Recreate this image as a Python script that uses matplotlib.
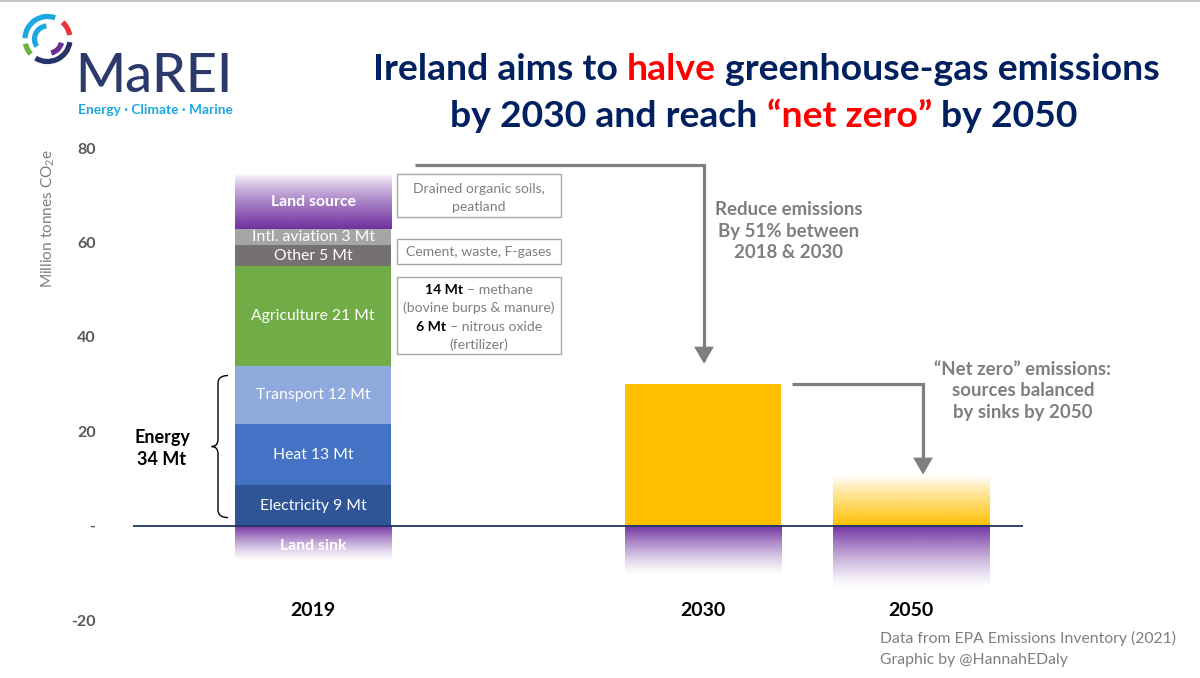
import numpy as np
import matplotlib
matplotlib.use('Agg')
import matplotlib.pyplot as plt
import matplotlib.transforms as mtransforms
from matplotlib.patches import Rectangle, Arc, FancyArrowPatch, PathPatch, ArrowStyle
from matplotlib.path import Path
from matplotlib.colors import to_rgb
from matplotlib.lines import Line2D

plt.rcParams['font.family'] = ['Lato', 'DejaVu Sans']
plt.rcParams['mathtext.fontset'] = 'custom'
plt.rcParams['mathtext.rm'] = 'Lato'
plt.rcParams['mathtext.it'] = 'Lato:italic'

# ---------------- data ----------------
categories = ['2019', '2030', '2050']
sector_labels = ['Electricity 9 Mt', 'Heat 13 Mt', 'Transport 12 Mt',
                 'Agriculture 21 Mt', 'Other 5 Mt', 'Intl. aviation 3 Mt', 'Land source']
values_2019 = [8.5, 13.1, 12.3, 21.0, 4.5, 3.4, 11.6]
sector_colors = ['#2F5597', '#4472C4', '#8FAADC', '#70AD47', '#767171', '#A5A5A5', '#7030A0']
n_energy = 3
source_2030 = 29.9
source_2050 = 10.8
land_sink = [-7.6, -10.5, -13.3]
yticks = [-20, 0, 20, 40, 60, 80]
ytick_labels = ['-20', '-', '20', '40', '60', '80']

# ---------------- layout ----------------
W, H = 1200, 678
fig = plt.figure(figsize=(W / 100, H / 100), dpi=100)
PX = mtransforms.Affine2D().scale(1 / W, -1 / H).translate(0, 1) + fig.transFigure

NAVY = '#002060'
GRAY = '#7F7F7F'
PURPLE = '#7030A0'
YELLOW = '#FFC000'
LS = 11.3  # segment label size

ax = fig.add_axes([133 / W, 1 - 620 / H, (1023 - 133) / W, (620 - 148) / H])
xpos = [0.0, 2.5, 3.833]
bw = 1.0
ax.set_xlim(-1.154, 4.551)
ax.set_ylim(-20, 80)
for s in ax.spines.values():
    s.set_visible(False)
ax.set_xticks([])
ax.set_yticks(yticks, ytick_labels)
ax.tick_params(axis='y', length=0, pad=27, labelsize=11.5, labelcolor='#595959')
for t in ax.get_yticklabels():
    t.set_fontweight('bold')
ax.patch.set_alpha(0)


def grad_bar(x, y0, y1, color, solid='bottom', power=1.0):
    n = 256
    t = np.linspace(0, 1, n)
    a = (1 - t) if solid == 'bottom' else t
    a = a ** power
    img = np.zeros((n, 1, 4))
    img[..., :3] = to_rgb(color)
    img[:, 0, 3] = a
    ax.imshow(img, extent=[x - bw / 2, x + bw / 2, y0, y1], origin='lower',
              aspect='auto', interpolation='bilinear', zorder=2)


# 2019 stacked bar
bottom = 0.0
for lab, v, c in zip(sector_labels, values_2019, sector_colors):
    if lab == 'Land source':
        grad_bar(xpos[0], bottom, bottom + v, c, 'bottom', power=0.75)
        ax.text(xpos[0], bottom + v / 2, lab, ha='center', va='center',
                color='white', fontsize=LS, fontweight='bold', zorder=4)
    else:
        ax.bar(xpos[0], v, bw, bottom=bottom, color=c, zorder=2, linewidth=0)
        ax.text(xpos[0], bottom + v / 2, lab, ha='center', va='center',
                color='white', fontsize=LS, zorder=4)
    bottom += v

# 2030 and 2050 sources
ax.bar(xpos[1], source_2030, bw, color=YELLOW, zorder=2, linewidth=0)
grad_bar(xpos[2], 0, source_2050, YELLOW, 'bottom', power=0.9)

# land sinks
for x, s in zip(xpos, land_sink):
    grad_bar(x, s, 0, PURPLE, 'top', power=1.3)
ax.text(xpos[0], land_sink[0] / 2 - 0.6, 'Land sink', ha='center', va='center',
        color='white', fontsize=LS, fontweight='bold', zorder=4)

ax.set_xlim(-1.154, 4.551)
ax.set_ylim(-20, 80)
ax.axhline(0, color='#203864', lw=1.3, zorder=3)

# category labels
for x, c in zip(xpos, categories):
    ax.text(x, -18.0, c, ha='center', va='center', fontsize=14,
            fontweight='bold', color='black')

# energy brace
energy_total = sum(values_2019[:n_energy])
top, bot = energy_total - 2.1, 1.7
mid = (top + bot) / 2
xr, xm, xl, r = -0.545, -0.609, -0.650, 1.6
verts = [(xr, top), (xm, top), (xm, top - r), (xm, mid + r),
         (xm, mid), (xl, mid), (xm, mid), (xm, mid - r),
         (xm, bot + r), (xm, bot), (xr, bot)]
codes = [Path.MOVETO, Path.CURVE3, Path.CURVE3, Path.LINETO,
         Path.CURVE3, Path.CURVE3, Path.CURVE3, Path.CURVE3,
         Path.LINETO, Path.CURVE3, Path.CURVE3]
ax.add_patch(PathPatch(Path(verts, codes), fill=False, edgecolor='black', lw=1.0, zorder=4))
ax.text(-0.968, mid - 0.4, 'Energy\n34 Mt', ha='center', va='center', fontsize=13,
        fontweight='bold', color='black', linespacing=1.4)

# arrows
astyle = ArrowStyle('-|>', head_length=0.55, head_width=0.32)
p1 = Path([(0.654, 76.3), (2.506, 76.3), (2.506, 34.3)])
ax.add_patch(FancyArrowPatch(path=p1, arrowstyle=astyle, mutation_scale=16,
                             color=GRAY, lw=2.3, joinstyle='miter', capstyle='butt', zorder=5))
p2 = Path([(3.071, source_2030), (3.910, source_2030), (3.910, source_2050)])
ax.add_patch(FancyArrowPatch(path=p2, arrowstyle=astyle, mutation_scale=16,
                             color=GRAY, lw=2.3, joinstyle='miter', capstyle='butt', zorder=5))

# ---------------- text helpers ----------------
renderer = fig.canvas.get_renderer()


def width_px(s, **kw):
    t = fig.text(0, 0, s, **kw)
    w = t.get_window_extent(renderer).width
    t.remove()
    return w


def rich(xc, y, segs, size):
    ws = [width_px(s, fontsize=size, fontweight=wt) for s, c, wt in segs]
    sp = (width_px('n n', fontsize=size, fontweight=segs[0][2])
          - width_px('nn', fontsize=size, fontweight=segs[0][2]))
    total = sum(ws) + sp * (len(segs) - 1)
    x = xc - total / 2
    for (s, c, wt), w in zip(segs, ws):
        fig.text(x, y, s, transform=PX, fontsize=size, fontweight=wt, color=c,
                 ha='left', va='baseline')
        x += w + sp


# title (fit to width)
line1 = [('Ireland aims to', NAVY, 'bold'), ('halve', '#FF0000', 'bold'),
         ('greenhouse-gas emissions', NAVY, 'bold')]
line2 = [('by 2030 and reach', NAVY, 'bold'), ('\u201cnet zero\u201d', '#FF0000', 'bold'),
         ('by 2050', NAVY, 'bold')]
w24 = width_px('Ireland aims to halve greenhouse-gas emissions', fontsize=24, fontweight='bold')
tsize = 24 * 790 / w24
rich(766, 80, line1, tsize)
rich(764, 127, line2, tsize)

# annotation boxes
box_kw = dict(transform=PX, fill=False, edgecolor='#A6A6A6', lw=1.0)
fig.add_artist(Rectangle((397, 174), 164, 43, **box_kw))
fig.add_artist(Rectangle((397, 239), 164, 25, **box_kw))
fig.add_artist(Rectangle((397, 277), 164, 77, **box_kw))
bs = 10.1
fig.text(479, 189, 'Drained organic soils,', transform=PX, ha='center', va='center', fontsize=bs, color=GRAY)
fig.text(479, 207, 'peatland', transform=PX, ha='center', va='center', fontsize=bs, color=GRAY)
fig.text(479, 252, 'Cement, waste, F-gases', transform=PX, ha='center', va='center', fontsize=bs, color=GRAY)
rich(479, 294, [('14 Mt', 'black', 'bold'), ('\u2013 methane', GRAY, 'normal')], bs)
fig.text(479, 308, '(bovine burps & manure)', transform=PX, ha='center', va='center', fontsize=bs, color=GRAY)
rich(479, 331, [('6 Mt', 'black', 'bold'), ('\u2013 nitrous oxide', GRAY, 'normal')], bs)
fig.text(479, 345, '(fertilizer)', transform=PX, ha='center', va='center', fontsize=bs, color=GRAY)

# callouts
fig.text(789, 231, 'Reduce emissions\nBy 51% between\n2018 & 2030', transform=PX,
         ha='center', va='center', fontsize=13.4, fontweight='bold', color=GRAY, linespacing=1.3)
fig.text(1023, 391, '\u201cNet zero\u201d emissions:\nsources balanced\nby sinks by 2050', transform=PX,
         ha='center', va='center', fontsize=13.4, fontweight='bold', color=GRAY, linespacing=1.3)

# y label
fig.text(48, 218, 'Million tonnes CO$_\\mathrm{2}$e', transform=PX, rotation=90,
         ha='center', va='center', fontsize=11.1, color='#7F7F7F')

# footer
fig.text(880, 638, 'Data from EPA Emissions Inventory (2021)', transform=PX,
         ha='left', va='center', fontsize=11.3, color=GRAY)
fig.text(880, 660, 'Graphic by @HannahEDaly', transform=PX,
         ha='left', va='center', fontsize=11.3, color=GRAY)

# top border
fig.add_artist(Line2D([0, W], [1, 1], transform=PX, color='#C8C8C8', lw=1.5))

# ---------------- logo ----------------
def arc(cx, cy, rad, a1, a2, color, lw=3.8):
    fig.add_artist(Arc((cx, cy), 2 * rad, 2 * rad, theta1=-a2, theta2=-a1,
                       transform=PX, color=color, lw=lw))

cx, cy = 47.5, 39
arc(cx, cy, 22.5, 70, 178, '#1CA7E0')
arc(cx, cy, 22.5, 10, 48, '#E8373A')
arc(cx, cy, 22.5, 192, 222, '#6CB33F')
arc(cx, cy, 22.5, 238, 352, '#273469')
arc(cx, cy, 13, 95, 215, '#1CA7E0')
arc(cx, cy, 14.5, 285, 345, '#6B2D8F')

wm = width_px('MaREI', fontsize=40)
msize = 40 * 157 / wm
fig.text(75, 92, 'MaREI', transform=PX, ha='left', va='baseline', fontsize=msize,
         color='#2B3A6B', fontweight='medium')
we = width_px('Energy \u00b7 Climate \u00b7 Marine', fontsize=10, fontweight='bold')
fig.text(78, 114, 'Energy \u00b7 Climate \u00b7 Marine', transform=PX, ha='left', va='baseline',
         fontsize=10 * 154 / we, fontweight='bold', color='#1CA7E0')

fig.savefig('out.png', dpi=100)
